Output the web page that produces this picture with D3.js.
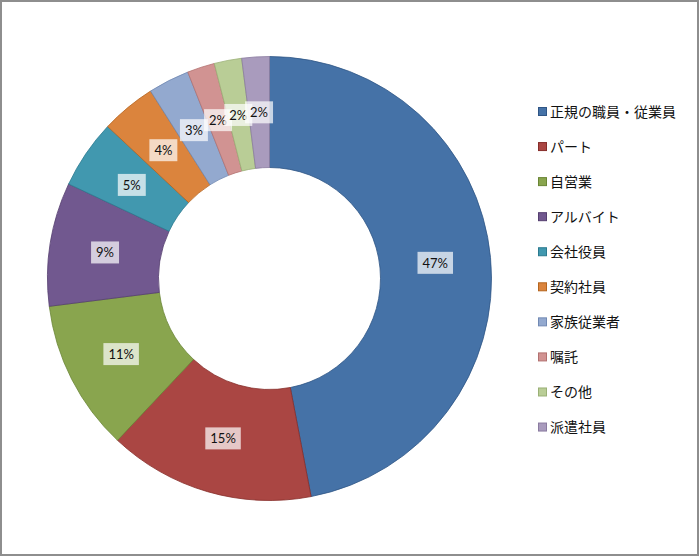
<!DOCTYPE html>
<html>
<head>
<meta charset="utf-8">
<script src="https://cdn.jsdelivr.net/npm/d3@7"></script>
<style>
  html, body { margin: 0; padding: 0; background: #fff; }
  svg { display: block; }
</style>
</head>
<body>
<svg id="chart" width="700" height="557"></svg>
<script>
// Employment type breakdown (percent)
const categories = ["正規の職員・従業員", "パート", "自営業", "アルバイト", "会社役員", "契約社員", "家族従業者", "嘱託", "その他", "派遣社員"];
const values = [47, 15, 11, 9, 5, 4, 3, 2, 2, 2];
const fills = ["#4572A7", "#AA4643", "#89A54E", "#71588F", "#4198AF", "#DB843D", "#93A9CF", "#D19392", "#B9CD96", "#A99BBD"];
const strokes = ["#2f5585", "#862d2a", "#6a8535", "#553f70", "#2b7a8f", "#b5651f", "#7189b3", "#b27170", "#9ab076", "#8a7ba0"];

const svg = d3.select("#chart");
const W = 700, H = 557;

// outer frame
svg.append("rect")
  .attr("x", 1).attr("y", 1)
  .attr("width", W - 3).attr("height", H - 3)
  .attr("fill", "#fff")
  .attr("stroke", "#8e8e8e")
  .attr("stroke-width", 2);

const cx = 269.5, cy = 278.5;
const outerR = 222, innerR = 111;

const data = categories.map((c, i) => ({ name: c, value: values[i], i }));

const pie = d3.pie().value(d => d.value).sort(null);
const arc = d3.arc().innerRadius(innerR).outerRadius(outerR);
const arcs = pie(data);

const g = svg.append("g").attr("transform", `translate(${cx},${cy})`);

g.selectAll("path.slice")
  .data(arcs)
  .join("path")
  .attr("class", "slice")
  .attr("d", arc)
  .attr("fill", d => fills[d.data.i])
  .attr("stroke", d => strokes[d.data.i])
  .attr("stroke-width", 0.8)
  .attr("stroke-linejoin", "round");

// value labels with translucent boxes
const labelFont = "Lato, 'Liberation Sans', sans-serif";
const lab = g.selectAll("g.lab")
  .data(arcs)
  .join("g")
  .attr("class", "lab")
  .attr("transform", d => {
    const [x, y] = arc.centroid(d);
    return `translate(${x},${y})`;
  });

lab.append("rect")
  .attr("fill", "#fff")
  .attr("fill-opacity", 0.7);

lab.append("text")
  .attr("text-anchor", "middle")
  .attr("dy", "0.36em")
  .attr("font-family", labelFont)
  .attr("font-size", 13)
  .attr("fill", "#111")
  .text(d => d.data.value + "%");

lab.each(function() {
  const t = d3.select(this).select("text").node().getBBox();
  d3.select(this).select("rect")
    .attr("x", -t.width / 2 - 5)
    .attr("y", -11)
    .attr("width", t.width + 10)
    .attr("height", 22);
});

// legend
const legend = svg.append("g").attr("transform", "translate(538,111.5)");
const step = 35.06;
const item = legend.selectAll("g.item")
  .data(data)
  .join("g")
  .attr("class", "item")
  .attr("transform", (d, i) => `translate(0,${i * step})`);

item.append("rect")
  .attr("x", 0.5).attr("y", -4)
  .attr("width", 8).attr("height", 8)
  .attr("fill", d => fills[d.i])
  .attr("stroke", d => strokes[d.i])
  .attr("stroke-width", 1);

item.append("text")
  .attr("x", 12)
  .attr("dy", "0.36em")
  .attr("font-family", "'Noto Sans CJK JP', sans-serif")
  .attr("font-size", 14)
  .attr("fill", "#111")
  .text(d => d.name);
</script>
</body>
</html>
